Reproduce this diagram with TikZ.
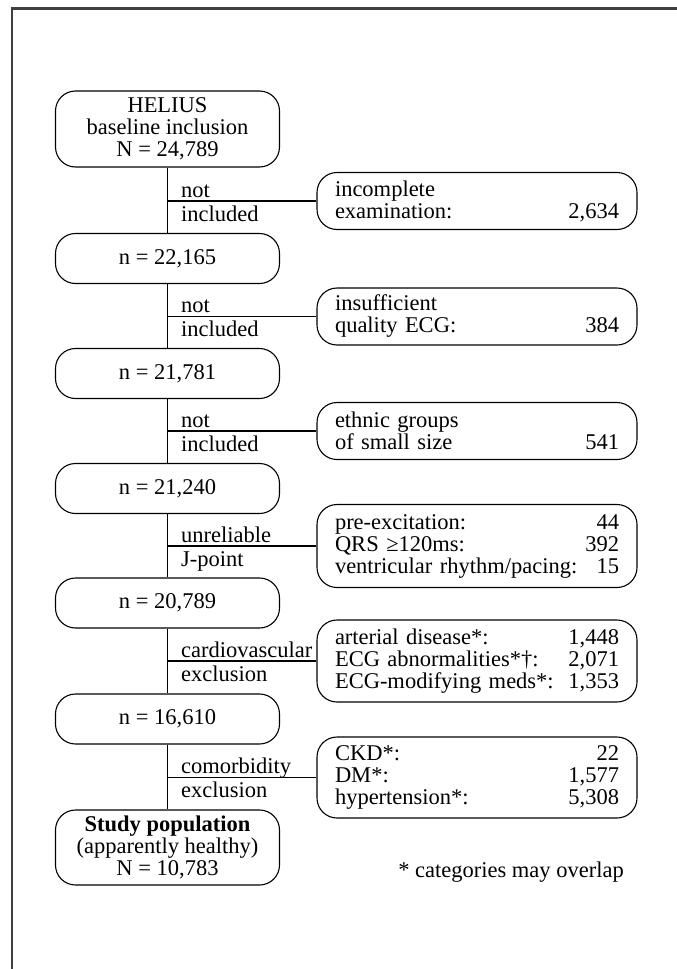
\documentclass[tikz,border=0pt]{standalone}
\usepackage{fontspec}
\setmainfont{Liberation Serif}
\begin{document}
\begin{tikzpicture}[
    x=1pt, y=-1pt,
    every node/.style={font=\fontsize{22.5}{22}\selectfont},
    mainbox/.style={draw, rounded corners=20pt, line width=1.1pt, minimum width=224pt, minimum height=50pt, align=center, inner sep=2pt},
    sidebox/.style={draw, rounded corners=20pt, line width=1.1pt, text width=284pt, inner xsep=18pt, inner ysep=2pt, minimum height=57pt, align=left},
    lbl/.style={anchor=base west, inner sep=0pt},
    link/.style={line width=1.1pt}
]
\useasboundingbox (0,0) rectangle (677,969);
% Rahmen
\draw[line width=2.2pt, black!75] (12,990) -- (12,8.5) -- (700,8.5);

% Hauptkette
\node[mainbox, minimum height=76pt] (helius) at (167.5,129) {HELIUS\\baseline inclusion\\N = 24,789};
\node[mainbox] (n1) at (167.5,258.5) {n = 22,165};
\node[mainbox] (n2) at (167.5,373.5) {n = 21,781};
\node[mainbox] (n3) at (167.5,488.5) {n = 21,240};
\node[mainbox] (n4) at (167.5,603) {n = 20,789};
\node[mainbox] (n5) at (167.5,719) {n = 16,610};
\node[mainbox, minimum height=75pt] (study) at (167.5,847.5) {\textbf{Study population}\\(apparently healthy)\\N = 10,783};

\draw[link] (helius) -- (n1);
\draw[link] (n1) -- (n2);
\draw[link] (n2) -- (n3);
\draw[link] (n3) -- (n4);
\draw[link] (n4) -- (n5);
\draw[link] (n5) -- (study);

% Ausschluss
\node[sidebox] (x1) at (477,201) {incomplete\\examination:\hfill 2,634};
\node[sidebox] (x2) at (477,316.5) {insufficient\\quality ECG:\hfill 384};
\node[sidebox] (x3) at (477,431) {ethnic groups\\of small size\hfill 541};
\node[sidebox, minimum height=83pt] (x4) at (477,546) {pre-excitation:\hfill 44\\QRS ≥120ms:\hfill 392\\ventricular rhythm/pacing:\hfill 15};
\node[sidebox, minimum height=82pt] (x5) at (477,661) {arterial disease*:\hfill 1,448\\ECG abnormalities*†:\hfill 2,071\\ECG-modifying meds*:\hfill 1,353};
\node[sidebox, minimum height=81pt] (x6) at (477,777.5) {CKD*:\hfill 22\\DM*:\hfill 1,577\\hypertension*:\hfill 5,308};

\coordinate (j1) at (167.5,201);
\coordinate (j2) at (167.5,316.5);
\coordinate (j3) at (167.5,431);
\coordinate (j4) at (167.5,546);
\coordinate (j5) at (167.5,661);
\coordinate (j6) at (167.5,777.5);
\draw[link] (j1) -- (x1);
\draw[link] (j2) -- (x2);
\draw[link] (j3) -- (x3);
\draw[link] (j4) -- (x4);
\draw[link] (j5) -- (x5);
\draw[link] (j6) -- (x6);

% Beschriftung
\node[lbl] (t1a) at (181,197) {not};
\node[lbl] (t1b) at (181,221) {included};
\node[lbl] (t2a) at (181,312.5) {not};
\node[lbl] (t2b) at (181,336.5) {included};
\node[lbl] (t3a) at (181,427) {not};
\node[lbl] (t3b) at (181,451) {included};
\node[lbl] (t4a) at (181,542) {unreliable};
\node[lbl] (t4b) at (181,566) {J-point};
\node[lbl] (t5a) at (181,657) {cardiovascular};
\node[lbl] (t5b) at (181,681) {exclusion};
\node[lbl] (t6a) at (181,773.5) {comorbidity};
\node[lbl] (t6b) at (181,797.5) {exclusion};

\node[anchor=base east, inner sep=0pt] (note) at (624,877) {* categories may overlap};
\end{tikzpicture}
\end{document}
